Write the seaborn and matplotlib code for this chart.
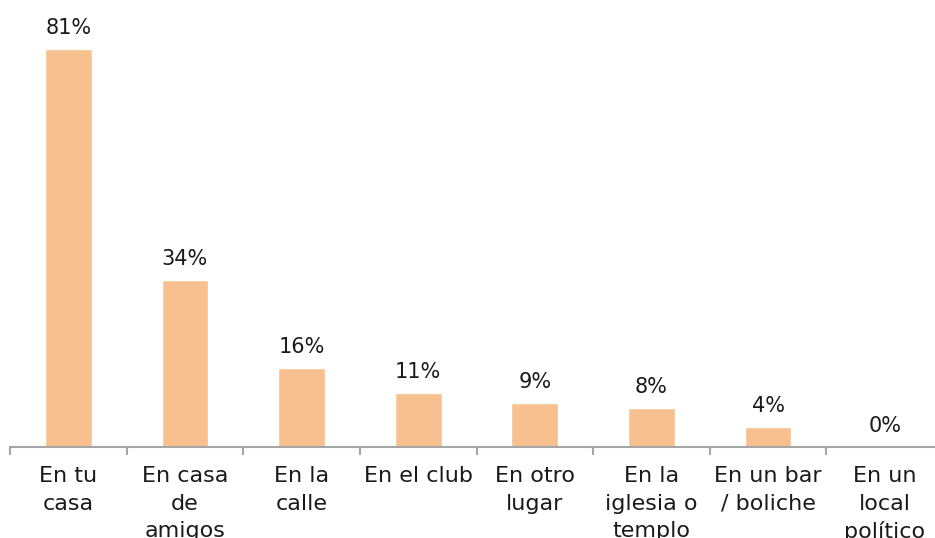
import numpy as np
import pandas as pd
import matplotlib.pyplot as plt
import seaborn as sns

# data
lugares = ["En tu\ncasa", "En casa\nde\namigos", "En la\ncalle", "En el club",
           "En otro\nlugar", "En la\niglesia o\ntemplo", "En un bar\n/ boliche",
           "En un\nlocal\npolítico"]
porcentajes = [81, 34, 16, 11, 9, 8, 4, 0]

df = pd.DataFrame({"Lugar": lugares, "Porcentaje": porcentajes})

sns.set_style("white")
plt.rcParams["font.family"] = ["DejaVu Sans"]

fig = plt.figure(figsize=(9.35, 5.38), dpi=100)
ax = fig.add_axes([10 / 935, 91 / 538, 933 / 935, 442 / 538])

sns.barplot(data=df, x="Lugar", y="Porcentaje", color="#F9C08F",
            width=0.4, saturation=1, ax=ax)

for i, v in enumerate(porcentajes):
    ax.annotate(f"{v}%", (i, v), xytext=(0, 8), textcoords="offset points",
                ha="center", va="bottom", fontsize=15, color="#1a1a1a")

ax.set_xlim(-0.5, 7.5)
ax.set_ylim(0, 90)
ax.set_xlabel("")
ax.set_ylabel("")
ax.set_yticks([])
for s in ["top", "right", "left"]:
    ax.spines[s].set_visible(False)
ax.spines["bottom"].set_color("#A6A6A6")
ax.spines["bottom"].set_linewidth(1.5)

ax.set_xticks(np.arange(-0.5, 8, 1), minor=True)
ax.tick_params(axis="x", which="major", length=0, pad=14,
               labelsize=16, labelcolor="#1a1a1a")
ax.tick_params(axis="x", which="minor", bottom=True, length=6, width=1.5,
               color="#A6A6A6")
for lab in ax.get_xticklabels():
    lab.set_linespacing(1.45)

fig.savefig("out.png", dpi=100)
